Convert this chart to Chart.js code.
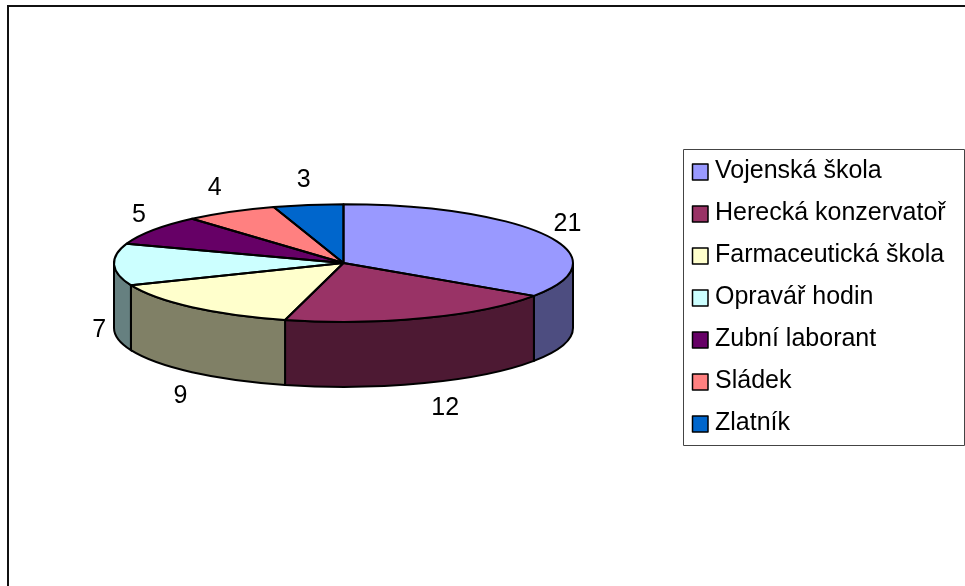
<!DOCTYPE html>
<html>
<head>
<meta charset="utf-8">
<script src="https://cdn.jsdelivr.net/npm/chart.js@4"></script>
<style>
html, body { margin: 0; padding: 0; background: #fff; overflow: hidden; }
#wrap { width: 965px; height: 586px; }
</style>
</head>
<body>
<div id="wrap"><canvas id="chart"></canvas></div>
<script>
const categories = ['Vojenská škola', 'Herecká konzervatoř', 'Farmaceutická škola', 'Opravář hodin', 'Zubní laborant', 'Sládek', 'Zlatník'];
const values = [21, 12, 9, 7, 5, 4, 3];
const colors = ['#9999FF', '#993366', '#FFFFCC', '#CCFFFF', '#660066', '#FF8080', '#0066CC'];
const wallColors = ['#4D4D80', '#4D1933', '#808066', '#668080', '#330033', '#804040', '#003366'];

const fontFamily = '"Liberation Sans", Arial, sans-serif';
const squash = 0.2565;  // tilt of the pie: circle -> ellipse
const depth = 65;       // height of the side wall
const outline = '#000';
const outlineWidth = 2;

// small hand nudges for the value labels, Excel does not place them evenly
const labelNudge = [[2, 2], [13, -1], [3, 3], [7, 0], [4, 1], [-5, 1], [-1, 3]];

const faceAt = (ctx, el) => {
    ctx.save();
    ctx.translate(el.x, el.y);
    ctx.scale(1, squash);
    ctx.beginPath();
    ctx.moveTo(0, 0);
    ctx.arc(0, 0, el.outerRadius, el.startAngle, el.endAngle);
    ctx.closePath();
    ctx.restore();
};

const pie3d = {
    id: 'pie3d',
    beforeDraw(chart) {
        const ctx = chart.ctx;
        // outer frame runs off the right and bottom of the picture
        ctx.save();
        ctx.strokeStyle = '#111';
        ctx.lineWidth = 2;
        ctx.strokeRect(8, 6, 1000, 640);
        ctx.restore();
        // legend sits outside the chart area, the box has to move with it or it gets clipped away
        const legend = chart.legend;
        legend.left = 681.5;
        legend.top = 141.5;
        legend.right = 965;
        legend.bottom = 586;
    },
    beforeDatasetDraw(chart, args) {
        const ctx = chart.ctx;
        // side walls, only the front half can be seen
        args.meta.data.forEach((el, i) => {
            const a0 = Math.max(el.startAngle, 0);
            const a1 = Math.min(el.endAngle, Math.PI);
            if (a1 <= a0) return;
            const rx = el.outerRadius, ry = el.outerRadius * squash;
            ctx.beginPath();
            ctx.ellipse(el.x, el.y, rx, ry, 0, a0, a1);
            ctx.ellipse(el.x, el.y + depth, rx, ry, 0, a1, a0, true);
            ctx.closePath();
            ctx.fillStyle = wallColors[i];
            ctx.fill();
            ctx.strokeStyle = outline;
            ctx.lineWidth = outlineWidth;
            ctx.stroke();
        });
        const first = args.meta.data[0];
        ctx.save();
        ctx.translate(first.x, first.y);
        ctx.scale(1, squash);
        ctx.translate(-first.x, -first.y);
    },
    afterDatasetDraw(chart, args) {
        const ctx = chart.ctx;
        ctx.restore();
        args.meta.data.forEach(el => {
            faceAt(ctx, el);
            ctx.strokeStyle = outline;
            ctx.lineWidth = outlineWidth;
            ctx.lineJoin = 'round';
            ctx.stroke();
        });
    },
    afterDraw(chart) {
        const ctx = chart.ctx;
        ctx.save();
        // value labels
        ctx.font = '25px ' + fontFamily;
        ctx.fillStyle = '#000';
        ctx.textAlign = 'center';
        ctx.textBaseline = 'middle';
        chart.getDatasetMeta(0).data.forEach((el, i) => {
            const mid = (el.startAngle + el.endAngle) / 2;
            const s = Math.sin(mid);
            const x = el.x + (el.outerRadius + 22) * Math.cos(mid) + labelNudge[i][0];
            const y = el.y + 87 * s + (s > 0 ? depth : 0) + labelNudge[i][1];
            ctx.fillText(values[i], x, y);
        });
        // legend frame and markers
        ctx.strokeStyle = '#444';
        ctx.lineWidth = 1;
        ctx.strokeRect(683.5, 149.5, 281, 296);
        ctx.strokeStyle = '#000';
        ctx.lineWidth = 1.5;
        categories.forEach((c, i) => {
            ctx.fillStyle = colors[i];
            ctx.fillRect(692.5, 164 + i * 42, 15.5, 16);
            ctx.strokeRect(692.5, 164 + i * 42, 15.5, 16);
        });
        ctx.restore();
    }
};

new Chart(document.getElementById('chart'), {
    type: 'pie',
    plugins: [pie3d],
    data: {
        labels: categories,
        datasets: [{ data: values, backgroundColor: colors, borderWidth: 0 }]
    },
    options: {
        responsive: true,
        maintainAspectRatio: false,
        animation: false,
        layout: { padding: { left: 114, top: 33, right: 392, bottom: 93 } },
        plugins: {
            tooltip: { enabled: false },
            legend: {
                position: 'chartArea',
                align: 'start',
                labels: {
                    color: '#000',
                    boxWidth: 4,
                    boxHeight: 4,
                    padding: 17,
                    font: { family: fontFamily, size: 25 },
                    generateLabels: chart => chart.data.labels.map((text, i) => ({
                        text, fillStyle: 'transparent', strokeStyle: 'transparent', lineWidth: 0, fontColor: '#000', index: i
                    }))
                }
            }
        }
    }
});
</script>
</body>
</html>
